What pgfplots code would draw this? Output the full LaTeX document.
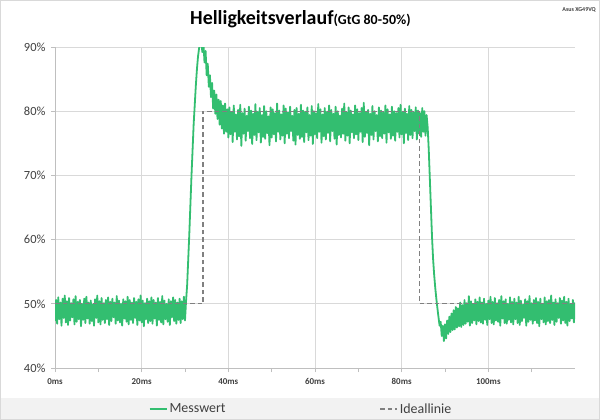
\documentclass[border=0pt]{standalone}
\usepackage{pgfplots}
\pgfplotsset{compat=1.18}
\usepackage{fontspec}
\setmainfont{Carlito}
\definecolor{mgreen}{RGB}{51,190,112}
\definecolor{gridc}{RGB}{217,217,217}
\definecolor{axc}{RGB}{191,191,191}
\definecolor{txt}{RGB}{64,64,64}
\definecolor{legbg}{RGB}{242,242,242}
\definecolor{idealc}{RGB}{128,128,128}
\begin{document}
\begin{tikzpicture}
\fill[white] (0bp,0bp) rectangle (600bp,-420bp);
\fill[legbg] (0bp,-398bp) rectangle (600bp,-420bp);
\draw[gridc] (0.5bp,-0.5bp) rectangle (599.5bp,-419.5bp);
\node[anchor=base west, inner sep=0pt, font=\bfseries\fontsize{20}{24}\selectfont] at (190bp,-24bp) {Helligkeitsverlauf\fontsize{14}{16}\selectfont(GtG 80-50\%)};
\node[anchor=north east, inner sep=0pt, font=\bfseries\fontsize{6}{7}\selectfont, text=txt] at (596bp,-7bp) {Asus XG49VQ};
\begin{axis}[
  at={(55bp,-368bp)}, anchor=south west, scale only axis,
  width=520bp, height=321bp,
  xmin=0, xmax=120, ymin=40, ymax=90,
  axis x line*=bottom, axis y line*=left,
  axis line style={axc, line width=0.75bp, -},
  xtick={0,20,...,100}, minor xtick={10,30,...,110},
  ytick={40,50,...,90},
  tick align=outside, major tick length=4bp, minor tick length=4bp,
  tick style={axc, line width=0.75bp},
  xmajorgrids, ymajorgrids,
  major grid style={gridc, line width=0.75bp},
  /pgf/number format/assume math mode=true,
  xticklabel={\pgfmathprintnumber{\tick}ms},
  yticklabel={\pgfmathprintnumber{\tick}\%},
  xticklabel style={font=\bfseries\fontsize{9}{11}\selectfont, text=txt, yshift=-3bp},
  yticklabel style={font=\fontsize{12.5}{14}\selectfont, text=txt, xshift=-2bp},
  legend style={at={(0.473,-0.128)}, anchor=center, draw=none, fill=none,
    legend columns=2, font=\fontsize{14}{16}\selectfont, text=txt,
    /tikz/every even column/.append style={column sep=152bp}},
]
\addplot[mgreen, line width=1.8bp, line join=round, legend image post style={line width=2bp}] coordinates {
(0,47.3)(0.25,50.6)(0.5,46.9)(0.75,51.0)(1,47.6)(1.25,50.2)(1.5,46.6)(1.75,50.8)
(2,47.8)(2.25,51.3)(2.5,47.1)(2.75,50.4)(3,46.7)(3.25,50.9)(3.5,47.4)(3.75,50.1)
(4,47.9)(4.25,50.7)(4.5,46.8)(4.75,51.2)(5,47.2)(5.25,50.3)(5.5,47.6)(5.75,50.6)
(6,46.5)(6.25,50.0)(6.5,47.5)(6.75,50.8)(7,47.0)(7.25,51.1)(7.5,47.7)(7.75,50.2)
(8,46.9)(8.25,50.5)(8.5,47.3)(8.75,49.9)(9,46.6)(9.25,50.7)(9.5,47.8)(9.75,51.3)
(10,47.1)(10.25,50.4)(10.5,46.8)(10.75,50.9)(11,47.5)(11.25,50.1)(11.5,47.0)(11.75,50.6)
(12,47.6)(12.25,51.0)(12.5,46.7)(12.75,50.3)(13,47.3)(13.25,50.8)(13.5,47.9)(13.75,50.2)
(14,46.9)(14.25,51.2)(14.5,47.4)(14.75,50.5)(15,47.1)(15.25,50.0)(15.5,46.6)(15.75,50.7)
(16,47.7)(16.25,50.4)(16.5,47.2)(16.75,51.1)(17,46.8)(17.25,50.6)(17.5,47.5)(17.75,50.2)
(18,47.0)(18.25,50.9)(18.5,47.8)(18.75,50.3)(19,46.7)(19.25,50.7)(19.5,47.4)(19.75,51.3)
(20,47.1)(20.25,50.5)(20.5,46.5)(20.75,50.1)(21,47.6)(21.25,50.8)(21.5,47.0)(21.75,50.4)
(22,47.3)(22.25,51.0)(22.5,46.9)(22.75,50.6)(23,47.7)(23.25,50.2)(23.5,46.6)(23.75,50.9)
(24,47.5)(24.25,50.3)(24.5,47.1)(24.75,51.2)(25,46.8)(25.25,50.5)(25.5,47.6)(25.75,50.0)
(26,47.2)(26.25,50.7)(26.5,46.7)(26.75,50.4)(27,47.9)(27.25,51.0)(27.5,47.3)(27.75,50.6)
(28,46.9)(28.25,50.2)(28.5,47.5)(28.75,50.8)(29,47.0)(29.25,50.4)(29.5,47.6)(29.75,51.1)
(30,47.4)(30.25,50.5)(30.5,53)(30.75,57)(31,61)(31.25,65.5)(31.5,70)(31.75,74)
(32,78)(32.25,81)(32.5,84)(32.75,86.5)(33,88.5)(33.25,89.8)(33.5,90.6)(33.75,91)
(34,89.2)(34.25,90.6)(34.5,87.6)(34.75,89.4)(35,85.6)(35.25,87.4)(35.5,83.8)(35.75,85.6)
(36,82.2)(36.25,84.4)(36.5,80.4)(36.75,83.2)(37,79.6)(37.25,82.6)(37.5,78.8)(37.75,81.8)
(38,77.9)(38.25,81.6)(38.5,77.3)(38.75,80.9)(39,76.5)(39.25,81.2)(39.5,76.8)(39.75,80.3)
(40,75.9)(40.25,80.6)(40.5,76.4)(40.75,79.8)(41,75.2)(41.25,80.9)(41.5,76.8)(41.75,79.5)
(42,75.6)(42.25,80.2)(42.5,76.1)(42.75,81.0)(43,74.6)(43.25,79.7)(43.5,76.5)(43.75,80.4)
(44,75.4)(44.25,79.3)(44.5,76.9)(44.75,80.7)(45,75.8)(45.25,80.1)(45.5,74.9)(45.75,79.6)
(46,76.3)(46.25,81.1)(46.5,75.5)(46.75,79.9)(47,76.7)(47.25,80.5)(47.5,75.1)(47.75,79.4)
(48,76.0)(48.25,80.8)(48.5,75.7)(48.75,80.0)(49,76.6)(49.25,79.2)(49.5,74.7)(49.75,80.6)
(50,75.9)(50.25,80.3)(50.5,76.4)(50.75,79.7)(51,75.3)(51.25,81.2)(51.5,76.8)(51.75,80.1)
(52,75.6)(52.25,79.5)(52.5,76.2)(52.75,80.9)(53,75.0)(53.25,80.4)(53.5,76.5)(53.75,79.8)
(54,75.8)(54.25,80.7)(54.5,76.9)(54.75,79.3)(55,75.4)(55.25,80.2)(55.5,74.8)(55.75,80.5)
(56,76.3)(56.25,79.6)(56.5,75.7)(56.75,81.0)(57,76.0)(57.25,80.1)(57.5,75.2)(57.75,79.9)
(58,76.7)(58.25,80.6)(58.5,75.5)(58.75,79.4)(59,76.2)(59.25,80.8)(59.5,74.9)(59.75,80.0)
(60,76.4)(60.25,79.7)(60.5,75.8)(60.75,81.1)(61,76.8)(61.25,80.3)(61.5,75.1)(61.75,79.5)
(62,76.1)(62.25,80.5)(62.5,75.6)(62.75,79.9)(63,76.6)(63.25,80.9)(63.5,75.3)(63.75,80.2)
(64,76.9)(64.25,79.6)(64.5,75.7)(64.75,80.7)(65,74.8)(65.25,80.0)(65.5,76.3)(65.75,79.3)
(66,75.9)(66.25,80.4)(66.5,76.5)(66.75,81.2)(67,75.4)(67.25,79.8)(67.5,76.2)(67.75,80.6)
(68,75.0)(68.25,80.1)(68.5,76.7)(68.75,79.5)(69,75.8)(69.25,80.9)(69.5,76.4)(69.75,80.3)
(70,75.5)(70.25,79.7)(70.5,76.8)(70.75,80.5)(71,75.2)(71.25,81.3)(71.5,76.0)(71.75,79.9)
(72,76.6)(72.25,80.2)(72.5,74.7)(72.75,79.6)(73,76.3)(73.25,80.8)(73.5,75.6)(73.75,80.0)
(74,76.9)(74.25,79.4)(74.5,75.3)(74.75,80.6)(75,76.1)(75.25,80.1)(75.5,75.8)(75.75,79.8)
(76,76.5)(76.25,80.9)(76.5,75.1)(76.75,80.3)(77,76.7)(77.25,79.5)(77.5,75.7)(77.75,80.7)
(78,76.2)(78.25,80.0)(78.5,75.4)(78.75,79.7)(79,76.8)(79.25,80.5)(79.5,75.9)(79.75,81.0)
(80,76.4)(80.25,79.9)(80.5,75.0)(80.75,80.4)(81,76.6)(81.25,79.6)(81.5,75.5)(81.75,80.8)
(82,76.3)(82.25,80.2)(82.5,75.8)(82.75,79.8)(83,76.9)(83.25,80.6)(83.5,75.6)(83.75,80.1)
(84,76.5)(84.25,79.7)(84.5,76.0)(84.75,80.5)(85,76.8)(85.25,80.0)(85.5,76.2)(85.75,79.4)
(86,77.5)(86.25,74)(86.5,69.5)(86.75,65)(87,60.5)(87.25,57)(87.5,54.5)(87.75,52.5)
(88,50.8)(88.25,49.3)(88.5,47.9)(88.75,46.6)(89,47.2)(89.25,45.0)(89.5,46.6)(89.75,44.2)
(90,46.8)(90.25,44.6)(90.5,47.4)(90.75,45.3)(91,48.0)(91.25,45.6)(91.5,48.5)(91.75,45.9)
(92,49.0)(92.25,46.0)(92.5,49.5)(92.75,46.3)(93,49.3)(93.25,46.5)(93.5,50.2)(93.75,46.4)
(94,49.8)(94.25,46.7)(94.5,50.6)(94.75,46.9)(95,50.1)(95.25,47.2)(95.5,51.2)(95.75,46.6)
(96,50.4)(96.25,47.0)(96.5,49.9)(96.75,47.4)(97,50.7)(97.25,46.8)(97.5,50.3)(97.75,47.3)
(98,51.0)(98.25,47.1)(98.5,50.2)(98.75,46.9)(99,50.8)(99.25,47.5)(99.5,50.0)(99.75,46.7)
(100,50.5)(100.25,47.6)(100.5,51.1)(100.75,47.0)(101,50.3)(101.25,46.8)(101.5,50.9)(101.75,47.4)
(102,50.1)(102.25,47.2)(102.5,50.6)(102.75,46.6)(103,51.2)(103.25,47.7)(103.5,50.4)(103.75,47.0)
(104,50.7)(104.25,46.9)(104.5,50.0)(104.75,47.5)(105,51.0)(105.25,47.1)(105.5,50.3)(105.75,46.8)
(106,50.8)(106.25,47.6)(106.5,50.2)(106.75,47.0)(107,51.1)(107.25,46.7)(107.5,50.5)(107.75,47.3)
(108,49.9)(108.25,47.8)(108.5,50.7)(108.75,46.6)(109,50.4)(109.25,47.2)(109.5,51.2)(109.75,47.5)
(110,50.1)(110.25,46.9)(110.5,50.6)(110.75,47.4)(111,50.9)(111.25,47.0)(111.5,50.3)(111.75,46.5)
(112,50.8)(112.25,47.6)(112.5,50.0)(112.75,47.1)(113,51.0)(113.25,46.8)(113.5,50.4)(113.75,47.3)
(114,50.6)(114.25,47.0)(114.5,51.3)(114.75,47.5)(115,50.2)(115.25,46.7)(115.5,50.7)(115.75,47.2)
(116,50.1)(116.25,47.8)(116.5,50.9)(116.75,46.9)(117,50.5)(117.25,47.4)(117.5,51.1)(117.75,47.0)
(118,50.3)(118.25,46.6)(118.5,50.8)(118.75,47.3)(119,50.0)(119.25,47.7)(119.5,50.6)(119.75,47.1)
(120,50.2)
};
\addlegendentry{Messwert}
\addplot[idealc, line width=1.3bp, dash pattern=on 4.5bp off 3bp] coordinates {
(0,50)(34.15,50)(34.15,80)(84.15,80)(84.15,50)(120,50)
};
\addlegendentry{Ideallinie}
\end{axis}
\end{tikzpicture}
\end{document}
